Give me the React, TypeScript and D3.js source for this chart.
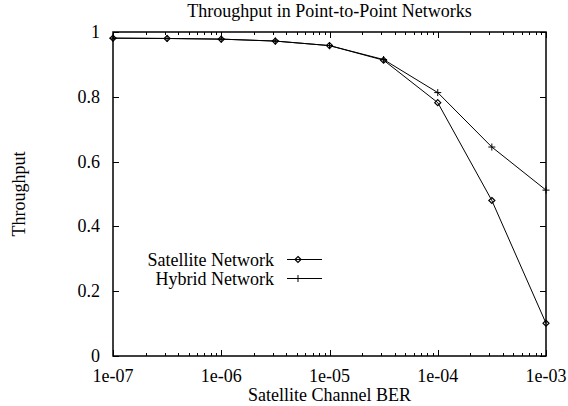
import { useRef, useEffect } from 'react';
import * as d3 from 'd3';

const berValues = [1e-7, 3.16e-7, 1e-6, 3.16e-6, 1e-5, 3.16e-5, 1e-4, 3.16e-4, 1e-3];
const satelliteThroughput = [0.981, 0.98, 0.978, 0.972, 0.958, 0.913, 0.782, 0.48, 0.101];
const hybridThroughput = [0.981, 0.98, 0.978, 0.972, 0.958, 0.915, 0.813, 0.645, 0.512];
const xTickValues = [1e-7, 1e-6, 1e-5, 1e-4, 1e-3];
const xTickLabels = ['1e-07', '1e-06', '1e-05', '1e-04', '1e-03'];
const yTickValues = [0, 0.2, 0.4, 0.6, 0.8, 1];
const yTickLabels = ['0', '0.2', '0.4', '0.6', '0.8', '1'];

const FONT = '"Liberation Serif", "DejaVu Serif", serif';

export default function App() {
  const svgRef = useRef<SVGSVGElement>(null);

  useEffect(() => {
    if (!svgRef.current) return;
    const svg = d3.select(svgRef.current);
    svg.selectAll('*').remove();

    const width = 568;
    const height = 406;
    const margin = { top: 32, right: 22, bottom: 50, left: 113 };
    const x = d3.scaleLog().domain([1e-7, 1e-3]).range([margin.left, width - margin.right]);
    const y = d3.scaleLinear().domain([0, 1]).range([height - margin.bottom, margin.top]);
    const [x0, x1] = x.range();
    const [y0, y1] = y.range();

    svg.append('rect').attr('width', width).attr('height', height).attr('fill', '#fff');

    // minor ticks (log decades)
    const minor: number[] = [];
    for (let e = -7; e < -3; e++) {
      for (let m = 2; m <= 9; m++) minor.push(m * Math.pow(10, e));
    }
    const ticks = svg.append('g').attr('stroke', '#000').attr('stroke-width', 1);
    minor.forEach(v => {
      const px = Math.round(x(v)) + 0.5;
      ticks.append('line').attr('x1', px).attr('x2', px).attr('y1', y0).attr('y2', y0 - 3);
      ticks.append('line').attr('x1', px).attr('x2', px).attr('y1', y1).attr('y2', y1 + 3);
    });
    xTickValues.forEach(v => {
      const px = Math.round(x(v)) + 0.5;
      ticks.append('line').attr('x1', px).attr('x2', px).attr('y1', y0).attr('y2', y0 - 6);
      ticks.append('line').attr('x1', px).attr('x2', px).attr('y1', y1).attr('y2', y1 + 6);
    });
    yTickValues.forEach(v => {
      const py = Math.round(y(v)) + 0.5;
      ticks.append('line').attr('x1', x0).attr('x2', x0 + 6).attr('y1', py).attr('y2', py);
      ticks.append('line').attr('x1', x1).attr('x2', x1 - 6).attr('y1', py).attr('y2', py);
    });

    // border
    svg.append('rect')
      .attr('x', x0).attr('y', y1)
      .attr('width', x1 - x0).attr('height', y0 - y1)
      .attr('fill', 'none').attr('stroke', '#000').attr('stroke-width', 1.5);

    const text = svg.append('g').attr('font-family', FONT).attr('font-size', 18).attr('fill', '#000');

    xTickValues.forEach((v, i) => {
      text.append('text').attr('x', x(v)).attr('y', 382)
        .attr('text-anchor', 'middle').text(xTickLabels[i]);
    });
    yTickValues.forEach((v, i) => {
      text.append('text').attr('x', 100).attr('y', y(v)).attr('dy', '0.33em')
        .attr('text-anchor', 'end').text(yTickLabels[i]);
    });

    text.append('text').attr('x', (x0 + x1) / 2).attr('y', 17)
      .attr('text-anchor', 'middle').text('Throughput in Point-to-Point Networks');
    text.append('text').attr('x', (x0 + x1) / 2).attr('y', 401)
      .attr('text-anchor', 'middle').text('Satellite Channel BER');
    text.append('text')
      .attr('transform', `translate(25,${(y0 + y1) / 2}) rotate(-90)`)
      .attr('text-anchor', 'middle').text('Throughput');

    const line = d3.line<[number, number]>().x(d => x(d[0])).y(d => y(d[1]));
    const satData = berValues.map((b, i) => [b, satelliteThroughput[i]] as [number, number]);
    const hybData = berValues.map((b, i) => [b, hybridThroughput[i]] as [number, number]);

    const diamond = (g: any, cx: number, cy: number) => {
      g.append('path')
        .attr('d', `M${cx},${cy - 3}L${cx + 3},${cy}L${cx},${cy + 3}L${cx - 3},${cy}Z`)
        .attr('fill', 'none').attr('stroke', '#000').attr('stroke-width', 1.2);
    };
    const plus = (g: any, cx: number, cy: number) => {
      g.append('path')
        .attr('d', `M${cx - 3.5},${cy}H${cx + 3.5}M${cx},${cy - 3.5}V${cy + 3.5}`)
        .attr('fill', 'none').attr('stroke', '#000').attr('stroke-width', 1);
    };

    const plot = svg.append('g');
    plot.append('path').datum(satData).attr('d', line)
      .attr('fill', 'none').attr('stroke', '#000').attr('stroke-width', 1);
    plot.append('path').datum(hybData).attr('d', line)
      .attr('fill', 'none').attr('stroke', '#000').attr('stroke-width', 1);
    satData.forEach(d => diamond(plot, x(d[0]), y(d[1])));
    hybData.forEach(d => plus(plot, x(d[0]), y(d[1])));

    // legend
    const legend = [
      { label: 'Satellite Network', mark: diamond, ly: 259.5 },
      { label: 'Hybrid Network', mark: plus, ly: 278.5 },
    ];
    legend.forEach(item => {
      text.append('text').attr('x', 274).attr('y', item.ly).attr('dy', '0.35em')
        .attr('text-anchor', 'end').text(item.label);
      plot.append('line').attr('x1', 287).attr('x2', 322)
        .attr('y1', item.ly).attr('y2', item.ly)
        .attr('stroke', '#000').attr('stroke-width', 1);
      item.mark(plot, 298, item.ly);
    });
  }, []);

  return (
    <svg ref={svgRef} width={568} height={406}
      style={{ position: 'absolute', left: 0, top: 0, display: 'block' }} />
  );
}
